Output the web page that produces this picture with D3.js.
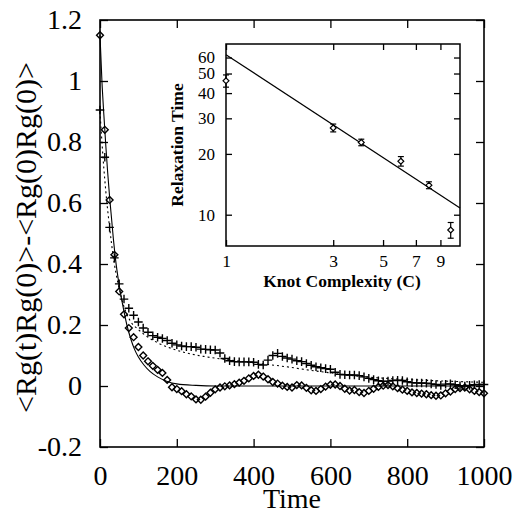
<!DOCTYPE html>
<html>
<head>
<meta charset="utf-8">
<script src="https://cdn.jsdelivr.net/npm/d3@7"></script>
<style>
  body { margin: 0; background: #fff; }
  svg { display: block; }
  svg text { font-family: "Liberation Serif", "Times New Roman", serif; fill: #000; }
</style>
</head>
<body>
<svg id="chart" width="513" height="514"></svg>
<script>
// sampling step of both correlation series (time units)
const tStep = 12.5;

// open diamonds
const diamondVals = [
    1.15, 0.84, 0.61, 0.43, 0.31, 0.235, 0.19, 0.16, 0.128, 0.10,
    0.081, 0.066, 0.053, 0.043, 0.02, -0.004, -0.01, -0.017, -0.027, -0.034,
    -0.044, -0.045, -0.035, -0.022, -0.011, -0.005, -0.001, 0.002, 0.006, 0.011,
    0.017, 0.025, 0.033, 0.037, 0.031, 0.022, 0.013, 0.008, 0.001, -0.003,
    -0.005, 0.003, 0.002, -0.006, -0.014, -0.016, -0.01, -0.002, 0.004, 0.005,
    0.0, -0.009, -0.015, -0.013, -0.02, -0.023, -0.016, -0.009, -0.003, 0.001,
    0.003, -0.001, -0.007, -0.012, -0.016, -0.021, -0.023, -0.025, -0.027, -0.03,
    -0.032, -0.031, -0.024, -0.018, -0.01, -0.007, -0.005, -0.011, -0.016, -0.02,
    -0.024
];

// plus markers
const plusVals = [
    0.905, 0.75, 0.52, 0.42, 0.335, 0.285, 0.255, 0.232, 0.21, 0.19,
    0.176, 0.165, 0.16, 0.156, 0.149, 0.14, 0.135, 0.131, 0.129, 0.129,
    0.127, 0.121, 0.12, 0.119, 0.118, 0.108, 0.09, 0.083, 0.08, 0.079,
    0.079, 0.079, 0.078, 0.071, 0.069, 0.085, 0.1, 0.107, 0.097, 0.092,
    0.088, 0.083, 0.08, 0.074, 0.068, 0.063, 0.06, 0.057, 0.055, 0.045,
    0.038, 0.037, 0.036, 0.036, 0.034, 0.03, 0.025, 0.021, 0.017, 0.015,
    0.016, 0.018, 0.019, 0.018, 0.014, 0.011, 0.01, 0.01, 0.009, 0.007,
    0.005, 0.002, 0.006, 0.007, 0.004, 0.001, 0.0, 0.002, 0.004, 0.005,
    0.005
];

// solid fit curve (diamonds)
const solidT = [0, 5, 10, 15, 20, 25, 30, 35, 40, 50, 60, 70, 80, 90, 100, 115, 130, 150, 175, 200, 250, 300, 1000];
const solidV = [1.15, 1.0, 0.89, 0.79, 0.70, 0.62, 0.55, 0.48, 0.42, 0.33, 0.26, 0.2, 0.155, 0.12, 0.095, 0.068, 0.048, 0.03, 0.015, 0.007, 0.002, 0.0, 0.0];

// dotted fit curve (pluses)
const dotT = [0, 5, 15, 25, 35, 48, 60, 78, 100, 117, 150, 182, 220, 270, 340, 420, 486, 550, 600, 650, 700, 825, 900, 1000];
const dotV = [0.9, 0.8, 0.64, 0.52, 0.42, 0.33, 0.27, 0.215, 0.185, 0.167, 0.142, 0.125, 0.11, 0.097, 0.085, 0.073, 0.063, 0.051, 0.043, 0.035, 0.029, 0.02, 0.016, 0.012];

const xTicks = [0, 200, 400, 600, 800, 1000];
const yTicks = [-0.2, 0, 0.2, 0.4, 0.6, 0.8, 1, 1.2];

// inset: relaxation time vs knot complexity
const knotC = [1, 3, 4, 6, 8, 10];
const relaxTau = [46, 26.9, 22.8, 18.4, 14.0, 8.4];
const relaxErr = [3.2, 1.2, 0.85, 1.0, 0.55, 0.75];
const fitC = [1, 11];
const fitTau = [62, 10.8];
const insetXTicks = [1, 3, 5, 7, 9];
const insetYTicks = [10, 20, 30, 40, 50, 60];

const svg = d3.select("#chart");

const x = d3.scaleLinear().domain([0, 1000]).range([100, 484]);
const y = d3.scaleLinear().domain([-0.2, 1.2]).range([447, 20]);

const diamond = d3.symbolDiamond2 || d3.symbolDiamond;
const plus = d3.symbolPlus || d3.symbolCross;

// plain hyphen for negatives, like the original
const numFmt = d => String(+d.toFixed(2));

function styleAxis(g, size) {
    g.select(".domain").remove();
    g.selectAll(".tick line").attr("stroke", "#000").attr("stroke-width", 1.3);
    g.selectAll(".tick text").attr("font-size", size);
}

// main axes (inward ticks on all four sides)
svg.append("g").attr("transform", `translate(${x(0)},0)`)
    .call(d3.axisLeft(y).tickValues(yTicks).tickSize(-8).tickPadding(18).tickFormat(numFmt))
    .call(g => styleAxis(g, 28));
svg.append("g").attr("transform", `translate(${x(1000)},0)`)
    .call(d3.axisRight(y).tickValues(yTicks).tickSize(-8).tickFormat(""))
    .call(g => styleAxis(g, 28));
svg.append("g").attr("transform", `translate(0,${y(-0.2)})`)
    .call(d3.axisBottom(x).tickValues(xTicks).tickSize(-8).tickPadding(18).tickFormat(numFmt))
    .call(g => styleAxis(g, 28));
svg.append("g").attr("transform", `translate(0,${y(1.2)})`)
    .call(d3.axisTop(x).tickValues(xTicks).tickSize(-8).tickFormat(""))
    .call(g => styleAxis(g, 28));

svg.append("rect")
    .attr("x", x(0)).attr("y", y(1.2))
    .attr("width", x(1000) - x(0)).attr("height", y(-0.2) - y(1.2))
    .attr("fill", "none").attr("stroke", "#000").attr("stroke-width", 1.6);

// fit curves
const line = d3.line().curve(d3.curveMonotoneX).x(d => x(d[0])).y(d => y(d[1]));

svg.append("path")
    .datum(solidT.map((t, i) => [t, solidV[i]]))
    .attr("d", line)
    .attr("fill", "none").attr("stroke", "#000").attr("stroke-width", 1.1);

svg.append("path")
    .datum(dotT.map((t, i) => [t, dotV[i]]))
    .attr("d", line)
    .attr("fill", "none").attr("stroke", "#000").attr("stroke-width", 1.1)
    .attr("stroke-dasharray", "2,3");

// data markers
svg.append("g").selectAll("path")
    .data(plusVals.map((v, i) => [i * tStep, v]))
    .join("path")
    .attr("transform", d => `translate(${x(d[0])},${y(d[1])})`)
    .attr("d", d3.symbol().type(plus).size(26))
    .attr("fill", "none").attr("stroke", "#000").attr("stroke-width", 1.4);

svg.append("g").selectAll("path")
    .data(diamondVals.map((v, i) => [i * tStep, v]))
    .join("path")
    .attr("transform", d => `translate(${x(d[0])},${y(d[1])})`)
    .attr("d", d3.symbol().type(diamond).size(30))
    .attr("fill", "none").attr("stroke", "#000").attr("stroke-width", 1.4);

// axis titles
svg.append("text")
    .attr("x", x(500)).attr("y", 508)
    .attr("text-anchor", "middle")
    .attr("font-size", 28)
    .text("Time");

svg.append("text")
    .attr("transform", `translate(36,${(y(1.2) + y(-0.2)) / 2 + 4}) rotate(-90)`)
    .attr("text-anchor", "middle")
    .attr("font-size", 30)
    .text("<Rg(t)Rg(0)>-<Rg(0)Rg(0)>");

// ---- inset ----
const ix = d3.scaleLog().domain([1, 11]).range([226, 460]);
const iy = d3.scaleLog().domain([7, 70]).range([246, 44]);

const inset = svg.append("g");

inset.append("g").attr("transform", `translate(${ix(1)},0)`)
    .call(d3.axisLeft(iy).tickValues(insetYTicks).tickSize(-6).tickPadding(11).tickFormat(d3.format("d")))
    .call(g => styleAxis(g, 17));
inset.append("g").attr("transform", `translate(${ix(11)},0)`)
    .call(d3.axisRight(iy).tickValues(insetYTicks).tickSize(-6).tickFormat(""))
    .call(g => styleAxis(g, 17));
inset.append("g").attr("transform", `translate(0,${iy(7)})`)
    .call(d3.axisBottom(ix).tickValues(insetXTicks).tickSize(-6).tickPadding(9).tickFormat(d3.format("d")))
    .call(g => styleAxis(g, 17.5));
inset.append("g").attr("transform", `translate(0,${iy(70)})`)
    .call(d3.axisTop(ix).tickValues(insetXTicks).tickSize(-6).tickFormat(""))
    .call(g => styleAxis(g, 17.5));

inset.append("rect")
    .attr("x", ix(1)).attr("y", iy(70))
    .attr("width", ix(11) - ix(1)).attr("height", iy(7) - iy(70))
    .attr("fill", "none").attr("stroke", "#000").attr("stroke-width", 1.5);

inset.append("path")
    .datum(fitC.map((c, i) => [c, fitTau[i]]))
    .attr("d", d3.line().x(d => ix(d[0])).y(d => iy(d[1])))
    .attr("fill", "none").attr("stroke", "#000").attr("stroke-width", 1.2);

const pts = knotC.map((c, i) => ({ c, tau: relaxTau[i], err: relaxErr[i] }));

const bars = inset.append("g").attr("stroke", "#000").attr("stroke-width", 1.2);
bars.selectAll("line.v").data(pts).join("line").attr("class", "v")
    .attr("x1", d => ix(d.c)).attr("x2", d => ix(d.c))
    .attr("y1", d => iy(d.tau - d.err)).attr("y2", d => iy(d.tau + d.err));
bars.selectAll("line.t").data(pts).join("line").attr("class", "t")
    .attr("x1", d => ix(d.c) - 3).attr("x2", d => ix(d.c) + 3)
    .attr("y1", d => iy(d.tau + d.err)).attr("y2", d => iy(d.tau + d.err));
bars.selectAll("line.b").data(pts).join("line").attr("class", "b")
    .attr("x1", d => ix(d.c) - 3).attr("x2", d => ix(d.c) + 3)
    .attr("y1", d => iy(d.tau - d.err)).attr("y2", d => iy(d.tau - d.err));

inset.append("g").selectAll("path").data(pts).join("path")
    .attr("transform", d => `translate(${ix(d.c)},${iy(d.tau)})`)
    .attr("d", d3.symbol().type(diamond).size(22))
    .attr("fill", "#fff").attr("stroke", "#000").attr("stroke-width", 1.2);

inset.append("text")
    .attr("x", 342).attr("y", 287)
    .attr("text-anchor", "middle")
    .attr("font-size", 17.5).attr("font-weight", "bold")
    .text("Knot Complexity (C)");

inset.append("text")
    .attr("transform", `translate(183,${(iy(7) + iy(70)) / 2}) rotate(-90)`)
    .attr("text-anchor", "middle")
    .attr("font-size", 17.5).attr("font-weight", "bold")
    .text("Relaxation Time");
</script>
</body>
</html>
